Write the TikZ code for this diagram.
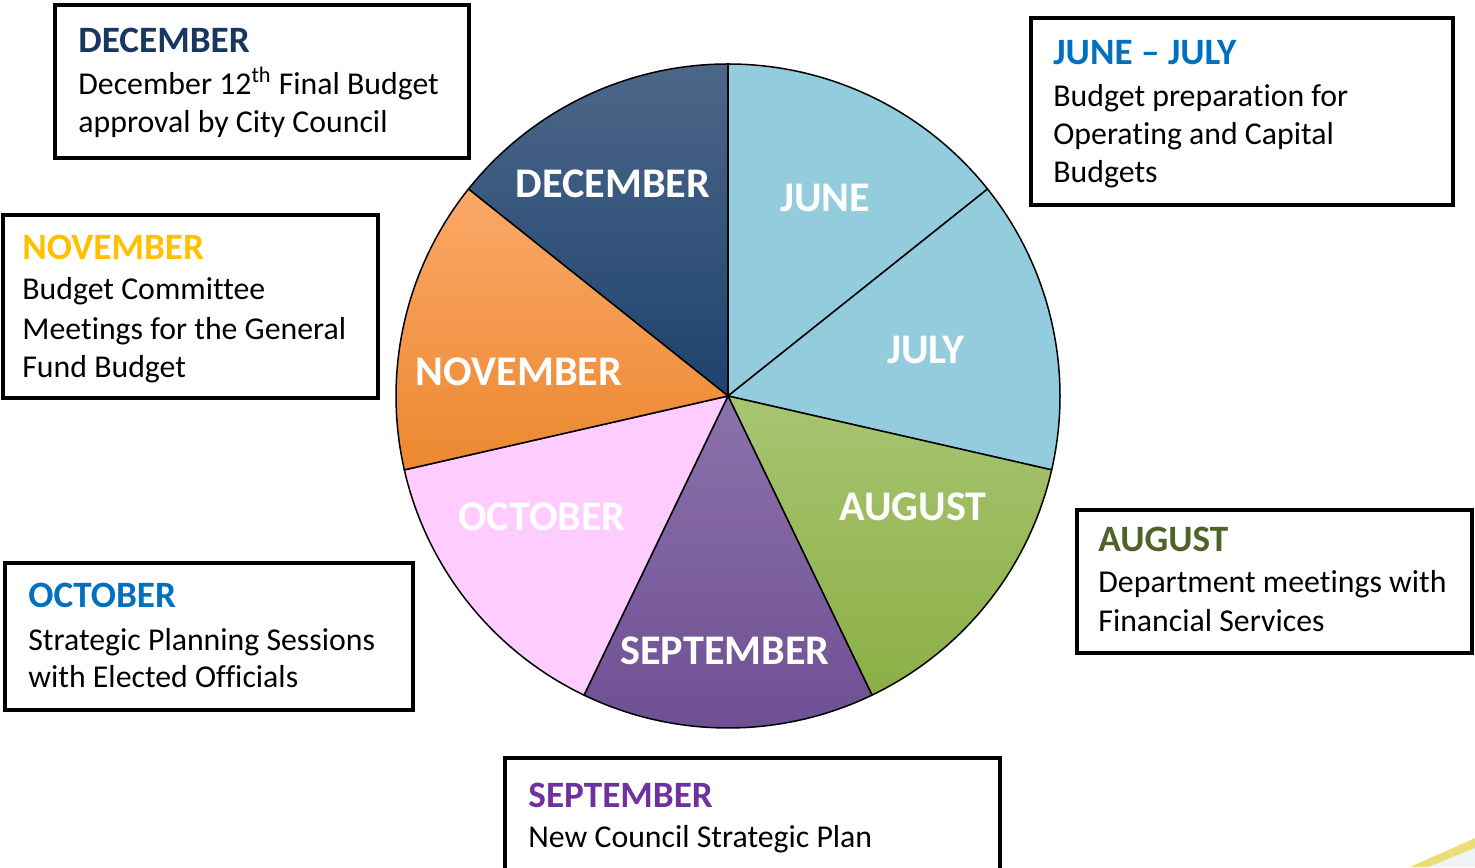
\documentclass[tikz,border=0pt]{standalone}
\usepackage{fontspec}
\setmainfont{Carlito}[Ligatures={TeX,NoCommon}]
% slice colours
\definecolor{skyfill}{HTML}{93CDDD}
\definecolor{pinkfill}{HTML}{FFCCFF}
\definecolor{decTop}{HTML}{4C6788}
\definecolor{decBot}{HTML}{1E426F}
\definecolor{novTop}{HTML}{FBA868}
\definecolor{novBot}{HTML}{EC8830}
\definecolor{augTop}{HTML}{A8C571}
\definecolor{augBot}{HTML}{8BAF45}
\definecolor{sepTop}{HTML}{8C72AA}
\definecolor{sepBot}{HTML}{6E4E93}
% heading colours
\definecolor{decHead}{HTML}{17375E}
\definecolor{blueHead}{HTML}{0070C0}
\definecolor{novHead}{HTML}{FFC000}
\definecolor{augHead}{HTML}{4F6228}
\definecolor{sepHead}{HTML}{7030A0}
% corner ornament
\definecolor{stripe}{HTML}{EBDD7A}
\definecolor{paleblue}{HTML}{EEF3F8}
\begin{document}
\begin{tikzpicture}[x=0.5pt,y=0.5pt,
  slice/.style={draw=black, line width=0.75pt, line join=round},
  infobox/.style={draw=black, line width=2pt, fill=white, anchor=north west,
                  inner sep=0pt, outer sep=0pt},
  head/.style={anchor=base west, inner sep=0pt, font=\fontsize{18.6}{22}\selectfont\bfseries},
  body/.style={anchor=base west, inner sep=0pt, font=\fontsize{15.9}{19}\selectfont},
  slabel/.style={text=white, inner sep=0pt, font=\fontsize{21.1}{25}\selectfont\bfseries}]
\useasboundingbox (0,0) rectangle (1475,867);
\clip (0,0) rectangle (1475,867);

% ---------- pie of the budget calendar ----------
\coordinate (c) at (728,471);
\shadedraw[slice, top color=decTop, bottom color=decBot]
  (c) -- ++(141.43:332) arc[start angle=141.43, end angle=90, radius=166pt] -- cycle;
\filldraw[slice, fill=skyfill]
  (c) -- ++(90:332) arc[start angle=90, end angle=38.57, radius=166pt] -- cycle;
\filldraw[slice, fill=skyfill]
  (c) -- ++(38.57:332) arc[start angle=38.57, end angle=-12.86, radius=166pt] -- cycle;
\shadedraw[slice, top color=augTop, bottom color=augBot]
  (c) -- ++(-12.86:332) arc[start angle=-12.86, end angle=-64.29, radius=166pt] -- cycle;
\shadedraw[slice, top color=sepTop, bottom color=sepBot]
  (c) -- ++(-64.29:332) arc[start angle=-64.29, end angle=-115.71, radius=166pt] -- cycle;
\filldraw[slice, fill=pinkfill]
  (c) -- ++(-115.71:332) arc[start angle=-115.71, end angle=-167.14, radius=166pt] -- cycle;
\shadedraw[slice, top color=novTop, bottom color=novBot]
  (c) -- ++(192.86:332) arc[start angle=192.86, end angle=141.43, radius=166pt] -- cycle;

% slice labels
\node[slabel] (lDec)  at (613,683) {DECEMBER};
\node[slabel] (lJun)  at (825,669) {JUNE};
\node[slabel] (lJul)  at (926,517) {JULY};
\node[slabel] (lAug)  at (913,360) {AUGUST};
\node[slabel] (lSep)  at (725,216) {SEPTEMBER};
\node[slabel] (lOct)  at (542,350) {OCTOBER};
\node[slabel] (lNov)  at (519,495) {NOVEMBER};

% ---------- description boxes ----------
% December
\node[infobox, minimum width=207pt, minimum height=76.5pt] (decBox) at (55,862) {};
\node[head, text=decHead] (decH) at (78,814) {DECEMBER};
\node[body] (dec1) at (78,772) {December 12\textsuperscript{th} Final Budget};
\node[body] (dec2) at (78,734) {approval by City Council};

% June - July
\node[infobox, minimum width=211pt, minimum height=93.5pt] (jjBox) at (1031,849) {};
\node[head, text=blueHead] (jjH) at (1053,802) {JUNE – JULY};
\node[body] (jj1) at (1053,760) {Budget preparation for};
\node[body] (jj2) at (1053,722) {Operating and Capital};
\node[body] (jj3) at (1053,684) {Budgets};

% November
\node[infobox, minimum width=187.5pt, minimum height=91.5pt] (novBox) at (3,652) {};
\node[head, text=novHead] (novH) at (22,607) {NOVEMBER};
\node[body] (nov1) at (22,567) {Budget Committee};
\node[body] (nov2) at (22,527) {Meetings for the General};
\node[body] (nov3) at (22,489) {Fund Budget};

% October
\node[infobox, minimum width=204pt, minimum height=73.5pt] (octBox) at (5,304) {};
\node[head, text=blueHead] (octH) at (28,259) {OCTOBER};
\node[body] (oct1) at (28,217) {Strategic Planning Sessions};
\node[body] (oct2) at (28,180) {with Elected Officials};

% August
\node[infobox, minimum width=197.5pt, minimum height=71.5pt] (augBox) at (1077,357) {};
\node[head, text=augHead] (augH) at (1098,315) {AUGUST};
\node[body] (aug1) at (1098,274) {Department meetings with};
\node[body] (aug2) at (1098,235) {Financial Services};

% September (runs past the lower edge)
\node[infobox, minimum width=247.5pt, minimum height=61pt] (sepBox) at (505,109) {};
\node[head, text=sepHead] (sepH) at (528,60) {SEPTEMBER};
\node[body] (sep1) at (528,20) {New Council Strategic Plan};

% ---------- corner ornament ----------
\fill[paleblue] (1428,0) -- (1475,19) -- (1475,0) -- cycle;
\fill[stripe] (1410,0) -- (1475,29) -- (1475,19) -- (1428,0) -- cycle;
\end{tikzpicture}
\end{document}
